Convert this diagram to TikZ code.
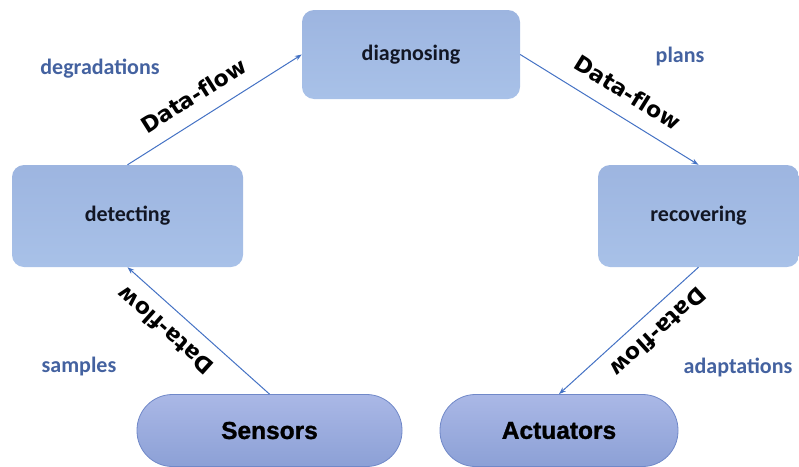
\documentclass[tikz,border=0pt]{standalone}
\usepackage{fontspec}
\newfontfamily\calfont{Carlito}
\newfontfamily\dvfont{DejaVu Sans}[Ligatures=NoCommon]
\newfontfamily\heavyfont{Liberation Sans Bold}[FakeBold=1.2]
\usetikzlibrary{arrows.meta}
\definecolor{boxtop}{RGB}{157,181,224}
\definecolor{boxbot}{RGB}{168,193,232}
\definecolor{pilltop}{RGB}{170,184,230}
\definecolor{pillbot}{RGB}{140,160,214}
\definecolor{pilledge}{RGB}{112,136,200}
\definecolor{arrowblue}{RGB}{68,114,196}
\definecolor{lblblue}{RGB}{68,98,160}
\definecolor{txtdark}{RGB}{18,22,36}
\tikzset{
  procbox/.style={rectangle, rounded corners=12pt, top color=boxtop, bottom color=boxbot, draw=none,
    font=\calfont\bfseries\fontsize{22}{25}\selectfont, text=txtdark},
  pill/.style={rectangle, rounded corners=35.5pt, top color=pilltop, bottom color=pillbot, draw=pilledge, line width=0.8pt,
    minimum height=72pt, font=\heavyfont\fontsize{24.5}{28}\selectfont, text=black},
  flow/.style={-{Stealth[length=7pt,width=5pt]}, draw=arrowblue, line width=1pt},
  flowlbl/.style={sloped, allow upside down, font=\dvfont\bfseries\fontsize{22}{26}\selectfont, text=black},
  sidelbl/.style={font=\calfont\bfseries\fontsize{22}{25}\selectfont, text=lblblue}
}
\begin{document}
\begin{tikzpicture}[x=1pt,y=-1pt]
\useasboundingbox (0,0) rectangle (799,466);
\node[procbox, minimum width=218pt, minimum height=89pt] (diag) at (411,54.5) {diagnosing};
\node[procbox, minimum width=231pt, minimum height=102pt] (detect) at (127.5,216) {detecting};
\node[procbox, minimum width=201pt, minimum height=102pt] (recov) at (698.5,216) {recovering};
\node[pill, minimum width=265pt] (sens) at (269.5,430.5) {Sensors};
\node[pill, minimum width=238pt] (act) at (559,430.5) {Actuators};

\draw[flow] (detect.north) -- node[flowlbl, pos=0.45, above=11pt] {Data-flow} (diag.west);
\draw[flow] (diag.east) -- node[flowlbl, pos=0.53, above=12pt] {Data-flow} (recov.north);
\draw[flow] (recov.south) -- node[flowlbl, pos=0.39, above=9pt] {Data-flow} (act.north);
\draw[flow] (sens.north) -- node[flowlbl, pos=0.63, above=10pt] {Data-flow} (detect.south);

\node[sidelbl] (ldeg) at (100,69) {degradations};
\node[sidelbl] (lplans) at (680,57) {plans};
\node[sidelbl] (lsamp) at (79,367) {samples};
\node[sidelbl] (ladapt) at (738,367) {adaptations};
\end{tikzpicture}
\end{document}
